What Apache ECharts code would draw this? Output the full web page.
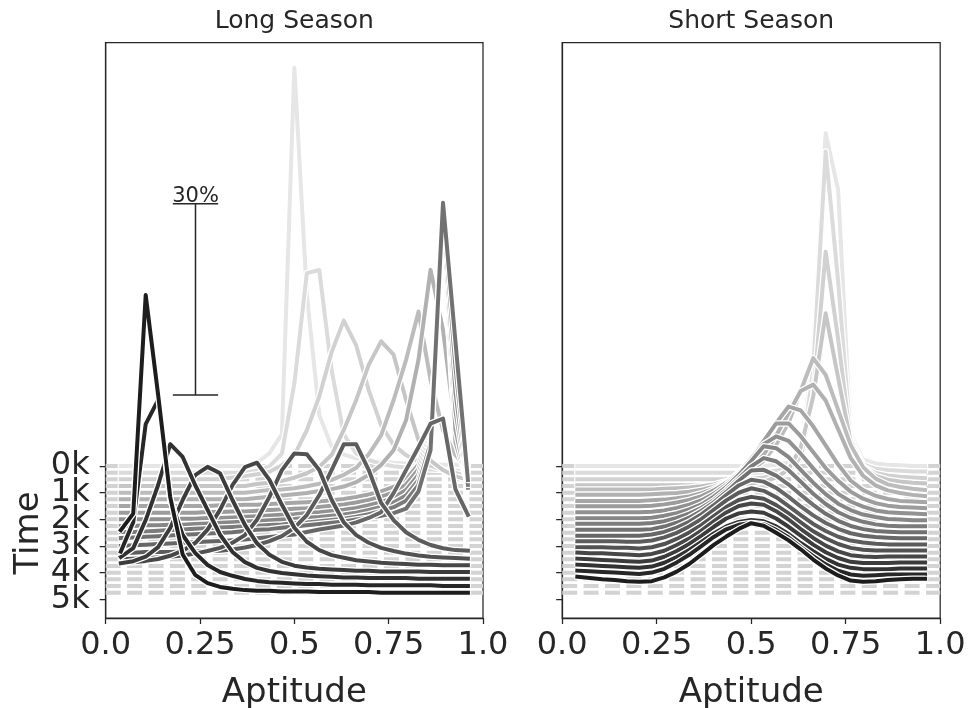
<!DOCTYPE html>
<html>
<head>
<meta charset="utf-8">
<script src="https://cdn.jsdelivr.net/npm/echarts@6/dist/echarts.min.js"></script>
<style>
html, body { margin: 0; background: #fff; }
#chart { width: 980px; height: 708px; }
</style>
</head>
<body>
<div id="chart"></div>
<script>
// aptitude bins (x position of every point)
var xs = [0.040, 0.073, 0.106, 0.139, 0.171, 0.204, 0.237, 0.270, 0.303, 0.336,
          0.369, 0.401, 0.434, 0.467, 0.500, 0.533, 0.566, 0.599, 0.631, 0.664,
          0.697, 0.730, 0.763, 0.796, 0.829, 0.861, 0.894, 0.927, 0.960];
// snapshot times, in thousands
var times = [0, 0.25, 0.5, 0.75, 1, 1.25, 1.5, 1.75, 2, 2.25,
             2.5, 2.75, 3, 3.25, 3.5, 3.75, 4, 4.25, 4.5, 4.75];
var yTicks = [0, 1, 2, 3, 4, 5];
var xTicks = [0, 0.25, 0.5, 0.75, 1];
var xTickLabels = ['0.0', '0.25', '0.5', '0.75', '1.0'];

// share of the population (%) in each bin, one row per snapshot
var longSeason = [
    [0,0,0,0,0,0,0,0,0,0,0,0.5,2,5,62.5,27,8,3,1.8,1.2,0.9,0.7,0.5,0.4,0.3,0.3,0.2,0.2,0.1],
    [0,0,0,0,0,0,0,0,0,0,0,0.3,1,3,14,31.3,31.8,16,6,3,2,1.4,1,0.8,0.6,0.5,0.4,0.3,0.2],
    [0,0,0,0,0,0,0,0,0,0.3,0.5,0.8,1.2,2.2,3.8,7.7,13,20,24.9,21,14,8.5,5.4,3.8,2.7,2.1,1.5,1,0.5],
    [0,0,0,0,0,0,0,0,0,0,0,0.3,0.5,0.8,1.3,2,3,4.9,8.8,13.5,19,22.7,20.6,13.5,7.2,4,2.5,1.5,1],
    [0,0,0,0,0,0,0,0,0,0,0,0.2,0.4,0.5,0.7,1,1.4,2,2.8,3.9,6,9,14.5,20.8,28.4,17.7,9.8,5.9,3.6],
    [0,0,0,0,0,0,0,0,0,0,0,0.2,0.4,0.6,0.8,1,1.3,1.6,2,2.7,3.8,5.4,7.7,12.4,21.9,36,26.6,10.9,4.6],
    [0,0,0,0,0,0,0,0,0.1,0.1,0.2,0.2,0.3,0.4,0.5,0.6,0.7,0.9,1.1,1.4,1.8,2.3,3,4.2,6.5,12,42.5,10,3.5],
    [0,0,0,0,0,0,0,0.1,0.1,0.2,0.2,0.3,0.4,0.5,0.6,0.7,0.9,1.1,1.3,1.6,2,2.5,3.2,4.4,6.8,12.5,44.7,13,4.2],
    [0,0,0,0,0,0.1,0.1,0.2,0.2,0.3,0.4,0.5,0.6,0.7,0.8,1,1.1,1.3,1.5,1.8,2.2,2.7,3.4,4.6,7,13,46.7,17,5],
    [0,0,0.1,0.1,0.2,0.2,0.3,0.4,0.5,0.6,0.7,0.8,0.9,1,1.1,1.3,1.4,1.6,1.8,2.1,2.5,3,3.7,4.8,7.2,13.5,48.8,21,6],
    [0.1,0.1,0.2,0.3,0.4,0.5,0.6,0.7,0.8,0.9,1,1.1,1.2,1.3,1.5,1.6,1.8,2,2.2,2.5,2.9,3.4,4,5,7.5,14,50.8,26,7.5],
    [0.2,0.3,0.4,0.5,0.6,0.7,0.8,0.9,1,1.1,1.3,1.5,1.6,1.8,2,2.2,2.4,2.6,2.8,3.1,3.4,3.7,4.1,4.8,7.5,14,52.8,31,9.3],
    [0,0.1,0.2,0.3,0.4,0.5,0.6,0.7,0.8,0.9,1,1.2,1.4,1.6,1.8,2.2,2.6,2.9,3.2,3.7,4.4,5.3,8.3,11.9,15.5,19.2,20,8.9,4.9],
    [0,0,0.1,0.1,0.1,0.2,0.2,0.3,0.3,0.5,0.8,1.2,1.8,2.6,3.9,5.9,9,13,17,17,13,7.8,5.1,3.2,2,1.2,0.7,0.4,0.3],
    [0,0.1,0.2,0.3,0.4,0.6,0.9,1.3,1.8,2.6,3.8,6.2,9.8,14,16.6,16.5,14,9.3,5.8,3.8,2.6,1.8,1.3,0.9,0.6,0.4,0.3,0.2,0.1],
    [0.5,0.6,0.8,1.1,1.6,2.4,3.6,5.7,8.8,12.7,15.5,16.2,13.5,9.6,6,3.8,2.5,1.7,1.3,0.9,0.7,0.5,0.4,0.3,0.2,0.2,0.1,0.1,0.1],
    [1.5,1.8,2.5,4,7,11.4,15.3,16.6,15.6,11.4,7.5,4.6,2.8,1.7,1.1,0.8,0.6,0.5,0.4,0.3,0.3,0.2,0.2,0.2,0.2,0.1,0.1,0.1,0.1],
    [3.5,4.9,9.3,14.8,21.2,19.2,14.8,10.9,7,4.3,2.7,1.8,1.3,1,0.8,0.6,0.5,0.4,0.3,0.3,0.2,0.2,0.2,0.2,0.1,0.1,0.1,0.1,0.1],
    [5.4,10,25.4,29.2,13.5,8,5.2,3.3,2.2,1.6,1.1,0.8,0.6,0.5,0.4,0.3,0.3,0.2,0.2,0.2,0.1,0.1,0.1,0.1,0.1,0.1,0,0,0],
    [9.8,12.4,46.7,31,15,6,2.8,1.5,0.9,0.6,0.4,0.3,0.3,0.2,0.2,0.2,0.1,0.1,0.1,0.1,0.1,0,0,0,0,0,0,0,0]
];
var shortSeason = [
    [0,0,0,0,0,0,0,0,0,0,0,0,0,0,0,0,0.2,0.5,1.5,18,52.2,43.3,5,1,0.4,0.2,0.1,0,0],
    [0,0,0,0,0,0,0,0,0,0,0,0,0,0,0,0,0.3,0.7,2,16,50.4,30,5.5,1.3,0.6,0.4,0.3,0.2,0.2],
    [0,0,0,0,0,0,0,0,0,0,0,0,0,0,0.1,0.3,0.6,1.3,3.5,13,35.7,22,6,2,1,0.6,0.4,0.3,0.2],
    [0.1,0.1,0.1,0.1,0.1,0.1,0.1,0.1,0.1,0.1,0.1,0.1,0.1,0.2,0.4,0.7,1.3,2.6,6,14,27.1,17,7,3,1.6,1,0.7,0.5,0.4],
    [0.5,0.5,0.5,0.5,0.5,0.5,0.5,0.6,0.7,0.8,1,1.3,1.8,2.5,3.5,5,7.5,11,16,21.1,18.5,13,7.5,4,2.2,1.3,0.9,0.6,0.4],
    [0.7,0.7,0.7,0.7,0.7,0.7,0.8,0.9,1,1.2,1.5,2,2.7,3.7,5,7,10,13.5,17,18,15.5,11,6.5,3.7,2.2,1.4,1,0.7,0.5],
    [0.8,0.8,0.8,0.8,0.8,0.8,0.9,1,1.2,1.5,2,2.7,3.7,5,7,9.7,13,15.6,15,12.5,9.5,6.5,4,2.5,1.6,1.1,0.8,0.7,0.6],
    [1,1,1,1,1,1,1.1,1.3,1.6,2,2.6,3.5,4.7,6.3,8.5,11.2,14,14,12,9.5,7,5,3.3,2.2,1.5,1.1,0.9,0.8,0.7],
    [1.1,1.1,1.1,1.1,1.1,1.1,1.2,1.4,1.8,2.3,3,4,5.4,7.2,9.5,11.8,13,12.3,10.3,8,5.8,4,2.8,2,1.4,1.1,1,0.9,0.8],
    [1.2,1.2,1.2,1.2,1.2,1.2,1.3,1.6,2,2.6,3.4,4.6,6.1,8,10.2,12.5,12.2,10.8,8.8,6.8,5,3.5,2.5,1.8,1.4,1.1,1,0.9,0.9],
    [1.4,1.4,1.4,1.4,1.4,1.4,1.5,1.8,2.3,3,3.9,5.1,6.7,8.5,10.4,11.7,11.2,9.8,8,6.1,4.5,3.2,2.3,1.7,1.3,1.1,1,1,1],
    [1.5,1.5,1.5,1.5,1.5,1.5,1.6,2,2.6,3.4,4.5,5.8,7.4,9.2,10.8,10.9,10,8.6,7,5.4,4,2.9,2.1,1.6,1.3,1.2,1.1,1.1,1.1],
    [1.6,1.6,1.6,1.6,1.6,1.6,1.8,2.2,2.9,3.8,5,6.4,8,9.5,10.4,10.1,9.1,7.7,6.2,4.8,3.6,2.7,2,1.6,1.4,1.3,1.2,1.2,1.2],
    [1.8,1.8,1.8,1.8,1.7,1.7,1.9,2.4,3.1,4.1,5.3,6.7,8.2,9.4,10.1,9.7,8.7,7.3,5.9,4.5,3.4,2.5,1.9,1.6,1.4,1.3,1.3,1.3,1.3],
    [1.9,1.9,1.9,1.8,1.8,1.7,1.9,2.4,3.2,4.2,5.4,6.8,8.2,9.3,9.8,9.5,8.5,7.2,5.8,4.4,3.3,2.4,1.8,1.5,1.4,1.4,1.4,1.4,1.4],
    [2.1,2,2,1.9,1.8,1.7,1.9,2.4,3.3,4.3,5.6,7,8.4,9.4,9.8,9.6,8.6,7.3,5.8,4.4,3.2,2.3,1.7,1.5,1.4,1.5,1.5,1.5,1.5],
    [2.2,2.1,2,1.9,1.8,1.7,1.9,2.5,3.4,4.5,5.8,7.2,8.5,9.3,9.6,9.4,8.5,7.2,5.8,4.4,3.2,2.3,1.7,1.5,1.5,1.5,1.6,1.6,1.6],
    [2.3,2.2,2.1,2,1.9,1.8,2,2.6,3.5,4.6,5.9,7.2,8.3,9,9.3,9.1,8.3,7.1,5.7,4.4,3.2,2.3,1.8,1.6,1.6,1.6,1.7,1.7,1.7],
    [2.4,2.3,2.2,2.1,2,1.9,2.1,2.7,3.7,4.9,6.3,7.7,8.9,9.6,9.9,9.7,8.8,7.6,6.1,4.7,3.4,2.4,1.8,1.6,1.7,1.8,1.8,1.8,1.8],
    [2.5,2.3,2.1,2,1.8,1.7,1.8,2.4,3.3,4.5,6,7.5,8.8,10,10.9,10.5,9.4,8.2,6.8,5.2,3.8,2.7,1.9,1.7,1.8,2,2.1,2.2,2.2]
];

// scale bar on the left panel: 30 % drawn upward from this point
var scaleBarPct = 30;
var scaleBarX = 0.238;
var scaleBarBase = -2.66;

var PCT = 0.239;        // 1 % of density, in time units (k)
var FONT = 'DejaVu Sans';
var INK = '#262626';

function grey(i) {
    var g = Math.round(230 - i * 10.6);
    return 'rgb(' + g + ',' + g + ',' + g + ')';
}

function panelSeries(panel, rows) {
    var out = [];
    // dashed baselines first, underneath everything
    times.forEach(function (t) {
        out.push({
            type: 'line', xAxisIndex: panel, yAxisIndex: panel, silent: true,
            symbol: 'none', data: [[0, t], [1, t]],
            lineStyle: { color: '#d3d3d3', width: 4, type: [15, 6.4] }
        });
    });
    rows.forEach(function (row, i) {
        var pts = row.map(function (d, k) { return [xs[k], times[i] - d * PCT]; });
        // white halo under each curve
        out.push({
            type: 'line', xAxisIndex: panel, yAxisIndex: panel, silent: true,
            symbol: 'none', data: pts,
            lineStyle: { color: '#ffffff', width: 6.5, join: 'round', cap: 'round' }
        });
        out.push({
            type: 'line', xAxisIndex: panel, yAxisIndex: panel, silent: true,
            symbol: 'none', data: pts,
            lineStyle: { color: grey(i), width: 4, join: 'round', cap: 'square' }
        });
    });
    return out;
}

function xAxisFor(i) {
    return {
        type: 'value', gridIndex: i, min: 0, max: 1, interval: 0.25,
        axisLine: { show: true, onZero: false, lineStyle: { color: INK, width: 1.25 } },
        axisTick: { show: true, length: 6, lineStyle: { color: INK, width: 1.25 } },
        splitLine: { show: false },
        axisLabel: {
            fontSize: 32, fontFamily: FONT, color: INK, margin: 12,
            showMinLabel: true, showMaxLabel: true,
            formatter: function (v) { return xTickLabels[xTicks.indexOf(v)]; }
        },
        name: 'Aptitude', nameLocation: 'middle', nameGap: 58,
        nameTextStyle: { fontSize: 34, fontFamily: FONT, color: INK }
    };
}

function yAxisFor(i) {
    return {
        type: 'value', gridIndex: i, inverse: true, min: -15.88, max: 5.70,
        axisLine: { show: true, onZero: false, lineStyle: { color: INK, width: 1.25 } },
        axisTick: { show: true, length: 6, customValues: yTicks, lineStyle: { color: INK, width: 1.25 } },
        splitLine: { show: false },
        axisLabel: { show: false }
    };
}

// time labels drawn through the left y axis (they overlap, as in the original)
var timeLabels = {
    type: 'custom', xAxisIndex: 0, yAxisIndex: 0, silent: true, clip: false,
    data: yTicks.map(function (v) { return [0, v]; }),
    renderItem: function (params, api) {
        var p = api.coord([api.value(0), api.value(1)]);
        return {
            type: 'text', x: p[0] - 16, y: p[1],
            style: { text: api.value(1) + 'k', fill: INK, font: '32px "DejaVu Sans"', align: 'right', verticalAlign: 'middle' }
        };
    }
};

var scaleBar = {
    type: 'custom', xAxisIndex: 0, yAxisIndex: 0, silent: true,
    data: [[scaleBarX, scaleBarBase, scaleBarPct]],
    renderItem: function (params, api) {
        var x = api.value(0), b = api.value(1), v = api.value(2);
        var lo = api.coord([x, b]);
        var hi = api.coord([x, b - v * PCT]);
        var half = api.size([0.06, 0])[0];
        var st = { stroke: INK, lineWidth: 1.5 };
        return {
            type: 'group',
            children: [
                { type: 'line', shape: { x1: lo[0], y1: lo[1], x2: hi[0], y2: hi[1] }, style: st },
                { type: 'line', shape: { x1: lo[0] - half, y1: lo[1], x2: lo[0] + half, y2: lo[1] }, style: st },
                { type: 'line', shape: { x1: hi[0] - half, y1: hi[1], x2: hi[0] + half, y2: hi[1] }, style: st },
                { type: 'text', x: hi[0], y: hi[1] + 3,
                  style: { text: v + '%', fill: INK, font: '21px "DejaVu Sans"', align: 'center', verticalAlign: 'bottom' } }
            ]
        };
    }
};

var myChart = echarts.init(document.getElementById('chart'));
var option = {
    animation: false,
    backgroundColor: '#ffffff',
    grid: [
        { left: 105.7, top: 42.5, width: 377.3, height: 575.5, outerBoundsMode: 'none',
          show: true, borderColor: INK, borderWidth: 1.25 },
        { left: 562.2, top: 42.5, width: 378, height: 575.5, outerBoundsMode: 'none',
          show: true, borderColor: INK, borderWidth: 1.25 }
    ],
    xAxis: [xAxisFor(0), xAxisFor(1)],
    yAxis: [yAxisFor(0), yAxisFor(1)],
    graphic: [
        { type: 'text', x: 294.3, y: 21, style: { text: 'Long Season', font: '25px "DejaVu Sans"', fill: INK, align: 'center', verticalAlign: 'middle' } },
        { type: 'text', x: 751.2, y: 21, style: { text: 'Short Season', font: '25px "DejaVu Sans"', fill: INK, align: 'center', verticalAlign: 'middle' } },
        { type: 'text', x: 29, y: 533, rotation: Math.PI / 2, style: { text: 'Time', font: '34px "DejaVu Sans"', fill: INK, align: 'center', verticalAlign: 'middle' } }
    ],
    series: panelSeries(0, longSeason).concat(panelSeries(1, shortSeason), [scaleBar, timeLabels])
};
myChart.setOption(option);
</script>
</body>
</html>
